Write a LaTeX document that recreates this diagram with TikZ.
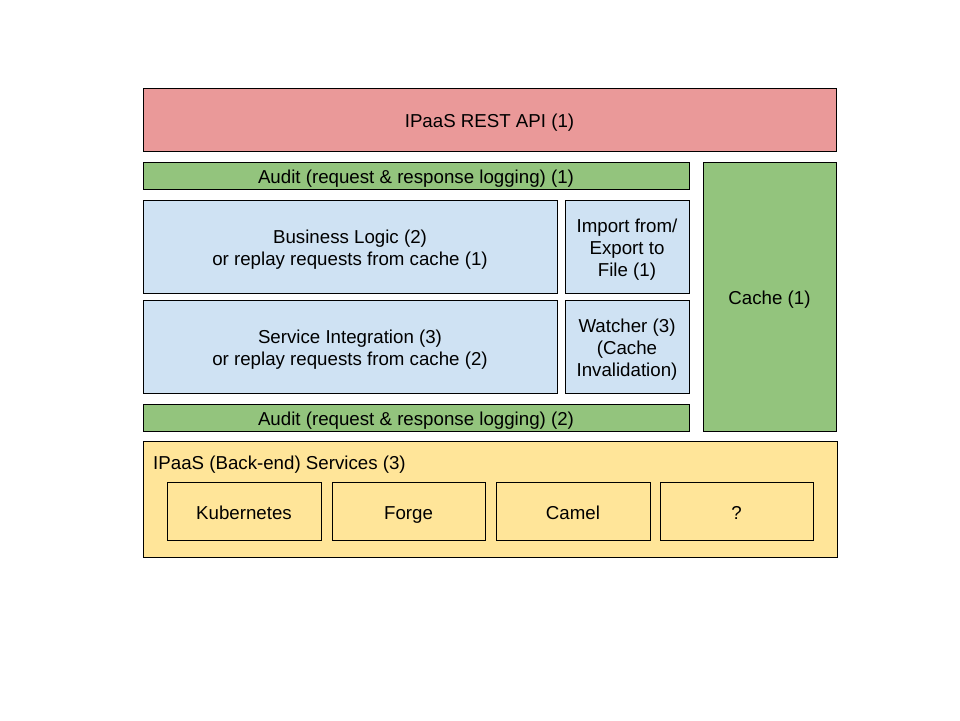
\documentclass[tikz,border=0pt]{standalone}
\usepackage{fontspec}
\setmainfont{Liberation Sans}
\definecolor{apired}{HTML}{EA9999}
\definecolor{auditgreen}{HTML}{93C47D}
\definecolor{lightblue}{HTML}{CFE2F3}
\definecolor{lightyellow}{HTML}{FFE599}
\newcommand{\linestrut}{\rule[-4pt]{0pt}{24.9pt}}
\newcommand{\topstrut}{\rule{0pt}{19pt}}
\newcommand{\botstrut}{\rule[-4pt]{0pt}{4pt}}
\begin{document}
\begin{tikzpicture}[x=1pt,y=-1pt,
  blk/.style={draw=black,line width=0.9pt,rectangle,inner sep=0pt,outer sep=0pt,align=center,
    font=\fontsize{18.7}{22}\selectfont,
    execute at begin node={\linestrut},execute at end node={\linestrut}},
  box/.style n args={2}{blk,minimum width=#1,minimum height=#2}]
\useasboundingbox (0,0) rectangle (960,720);
\node[box={693pt}{63pt},fill=apired] (api) at (489.5,119.5) {IPaaS REST API (1)};
\node[box={546pt}{27pt},fill=auditgreen] (audit1) at (416,175.5) {Audit (request \& response logging) (1)};
\node[box={133pt}{269pt},fill=auditgreen] (cache) at (769.5,296.5) {Cache (1)};
\node[box={414pt}{93pt},fill=lightblue] (biz) at (350,246.5) {\topstrut Business Logic (2)\\or replay requests from cache (1)\botstrut};
\node[box={124pt}{93pt},fill=lightblue] (imp) at (627,246.5) {\topstrut Import from/\\Export to\\File (1)\botstrut};
\node[box={414pt}{93pt},fill=lightblue] (svc) at (350,346.5) {\topstrut Service Integration (3)\\or replay requests from cache (2)\botstrut};
\node[box={124pt}{93pt},fill=lightblue] (watch) at (627,346.5) {\topstrut Watcher (3)\\(Cache\\Invalidation)\botstrut};
\node[box={546pt}{27pt},fill=auditgreen] (audit2) at (416,417.5) {Audit (request \& response logging) (2)};
\node[box={694pt}{116pt},fill=lightyellow] (back) at (490,499) {};
\node[anchor=west,inner sep=0pt,font=\fontsize{18.7}{22}\selectfont] (backlbl) at (153,464.5) {IPaaS (Back-end) Services (3)};
\node[box={154pt}{58pt}] (kube) at (244,511) {Kubernetes};
\node[box={153pt}{58pt}] (forge) at (408.5,511) {Forge};
\node[box={154pt}{58pt}] (camel) at (573,511) {Camel};
\node[box={153pt}{58pt}] (unk) at (736.5,511) {?};
\end{tikzpicture}
\end{document}
